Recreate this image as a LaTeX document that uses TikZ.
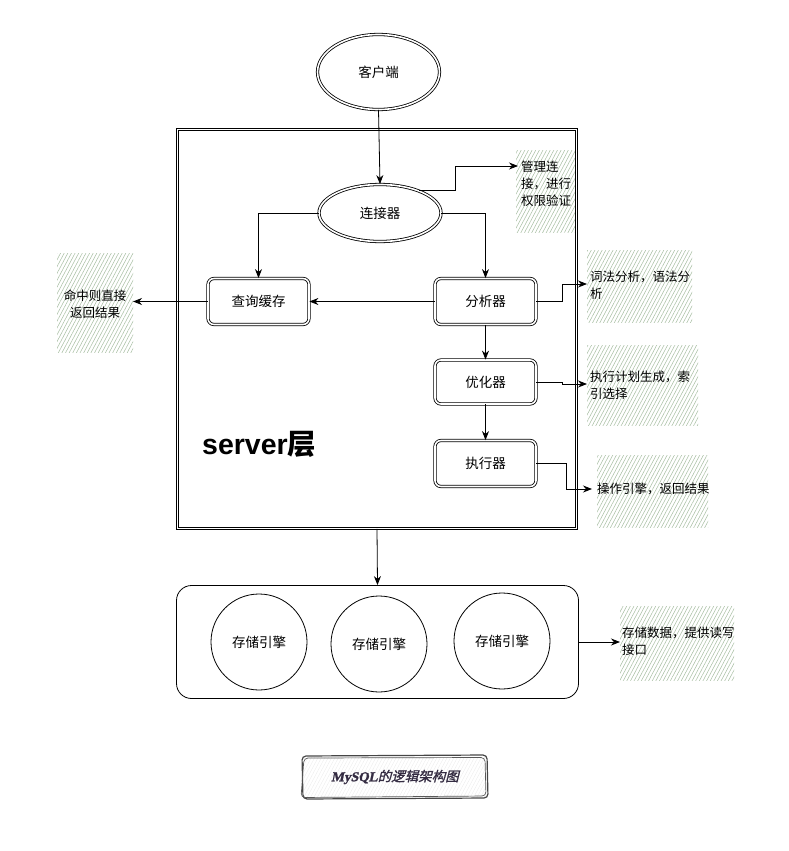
\documentclass[tikz,border=0pt]{standalone}
\usepackage{fontspec}
\setmainfont{Liberation Sans}
\newfontfamily\cjk{Noto Sans CJK SC}
\newfontfamily\capcjk[FakeSlant=0.25,FakeBold=1.5]{Noto Sans CJK SC}
\newfontfamily\capserif[FakeSlant=0.2,FakeBold=1.5]{Liberation Serif}
\usetikzlibrary{shapes.geometric,arrows.meta,patterns.meta,calc}
\definecolor{hatchc}{RGB}{170,192,165}
\definecolor{capc}{RGB}{52,44,66}
\begin{document}
\begin{tikzpicture}[x=1pt,y=-1pt,
  dbl/.style={draw=black, line width=0.8pt, double=white, double distance=1.6pt},
  lab/.style={font=\cjk\fontsize{13.5}{16}\selectfont},
  ell/.style={ellipse, dbl, inner sep=0pt, lab},
  procbox/.style={rectangle, rounded corners=6pt, dbl, inner sep=0pt, minimum width=101pt, lab},
  eng/.style={circle, draw, line width=0.8pt, minimum size=96pt, inner sep=0pt, lab},
  arr/.style={-{Stealth[length=9pt,width=7pt]}, line width=0.8pt},
  plain/.style={line width=0.8pt},
  note/.style={font=\cjk\fontsize{12.5}{17}\selectfont, align=left, inner sep=0pt, anchor=north west},
  hatch/.style={pattern={Lines[angle=62,distance=3.2pt,line width=0.55pt]}, pattern color=hatchc}
]
\useasboundingbox (0,0) rectangle (788,851);
% hatched note backgrounds
\fill[hatch] (516,150) rectangle (577,232);
\fill[hatch] (57,253) rectangle (133,352);
\fill[hatch] (587,250) rectangle (692,322);
\fill[hatch] (587,345) rectangle (698,425);
\fill[hatch] (597,455) rectangle (708,527);
\fill[hatch] (620,606) rectangle (734,680);

% server box
\node[rectangle, dbl, inner sep=0pt, minimum width=399pt, minimum height=399pt] (server) at (377,329) {};
\node[anchor=west, inner sep=0pt] (srvlabel) at (202,444) {\fontsize{28.5}{32}\selectfont\bfseries server{\cjk\bfseries 层}};

% nodes
\node[ell, minimum width=122pt, minimum height=75pt] (client) at (378.5,72) {客户端};
\node[ell, minimum width=122pt, minimum height=57pt] (conn) at (380,213) {连接器};
\node[procbox, minimum height=46pt] (qc) at (258.5,301.5) {查询缓存};
\node[procbox, minimum height=46pt] (an) at (485.5,301.5) {分析器};
\node[procbox, minimum height=44pt] (opt) at (485.5,382) {优化器};
\node[procbox, minimum height=46pt] (ex) at (485.5,463.5) {执行器};

% storage
\node[rectangle, rounded corners=15pt, draw, line width=0.8pt, minimum width=402pt, minimum height=113pt, inner sep=0pt] (store) at (377.5,642) {};
\node[eng] (e1) at (259,642) {存储引擎};
\node[eng] (e2) at (379,644) {存储引擎};
\node[eng] (e3) at (502,641) {存储引擎};

% notes
\node[note] (n1) at (521,161) {\fontsize{12.5}{18}\selectfont 管理连\\接，进行\\权限验证};
\node[note, anchor=center, align=center] (n2) at (95,304) {\fontsize{12.5}{14.5}\selectfont 命中则直接\\返回结果};
\node[note] (n3) at (590,271) {词法分析，语法分\\析};
\node[note] (n4) at (590,371) {执行计划生成，索\\引选择};
\node[note] (n5) at (597,483) {操作引擎，返回结果};
\node[note] (n6) at (622,627) {\fontsize{12.5}{18}\selectfont 存储数据，提供读写\\接口};

\coordinate (t1) at (518,166);
\coordinate (t2) at (133,301.5);
\coordinate (t3) at (587,284);
\coordinate (t4) at (587,384);
\coordinate (t5) at (592,489);
\coordinate (t6) at (620,642);

% connectors
\draw[arr] (client.south) -- (conn.north);
\draw[arr] (conn.west) -| (qc.north);
\draw[arr] (conn.east) -| (an.north);
\draw[arr] (conn.30) -- ++(37,0) |- (t1);
\draw[arr] (an.west) -- (qc.east);
\draw[arr] (qc.west) -- (t2);
\draw[arr] (an.south) -- (opt.north);
\draw[arr] (opt.south) -- (ex.north);
\draw[arr] (an.east) -- ++(26,0) |- (t3);
\draw[arr] (opt.east) -- ++(26,0) |- (t4);
\draw[arr] (ex.east) -- ++(30,0) |- (t5);
\draw[arr] (server.south) -- (store.north);
\draw[arr] (store.east) -- (t6);

% caption
\fill[pattern={Lines[angle=62,distance=3pt,line width=0.4pt]}, pattern color=gray!15] (304,757) rectangle (486,797);
\draw[line width=1.2pt, gray!55!black, rounded corners=4pt] (302,756) -- (487,755) -- (488,798) -- (303,799) -- cycle;
\draw[line width=0.7pt, gray!70!black, rounded corners=4pt] (304,758) -- (485,757.5) -- (486,796) -- (301,797.5) -- cycle;
\node[inner sep=0pt, text=capc] (cap) at (395,777) {\fontsize{13.5}{16}\selectfont{\capserif\bfseries MySQL}{\capcjk 的逻辑架构图}};
\end{tikzpicture}
\end{document}
